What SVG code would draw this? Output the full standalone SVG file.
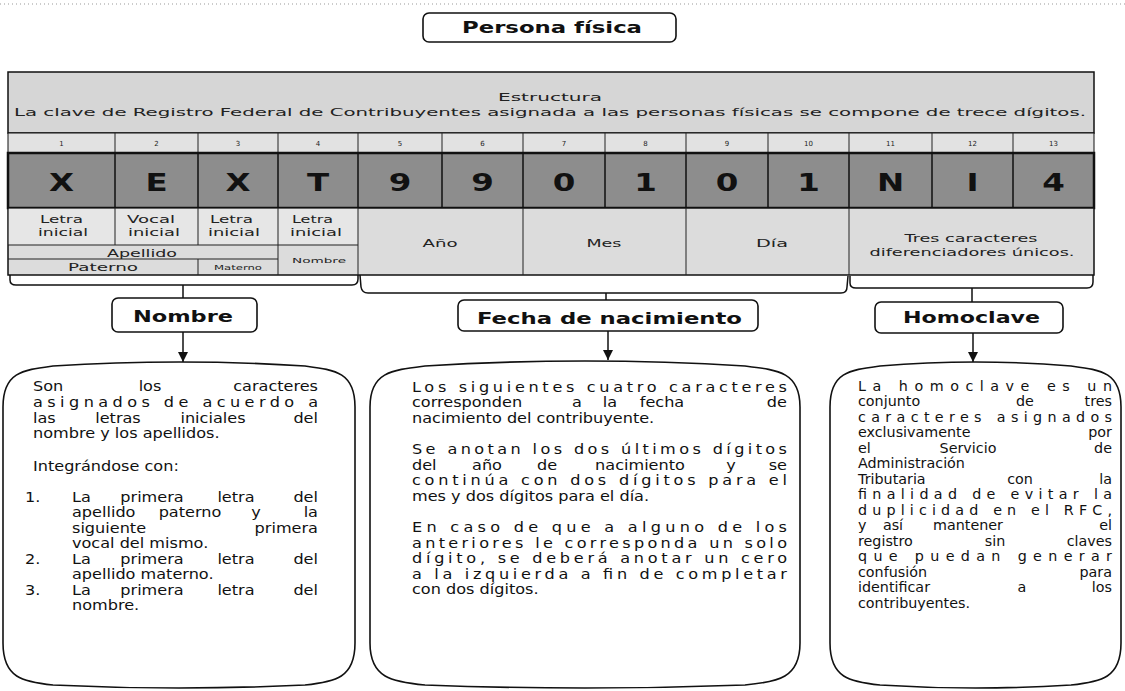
<svg xmlns="http://www.w3.org/2000/svg" width="1125" height="691" viewBox="0 0 1125 691">
<defs>
<marker id="ah" viewBox="0 0 10 10" refX="10" refY="5" markerWidth="10" markerHeight="10" markerUnits="userSpaceOnUse" orient="auto"><path d="M0,0 L10,5 L0,10 Z" fill="#111"/></marker>
</defs>
<style>
.ln{fill:none;stroke:#111;stroke-width:1.5}
.thin{fill:none;stroke:#222;stroke-width:1}
.box{fill:#fff;stroke:#111;stroke-width:1.6}
.lbl{font-family:"DejaVu Sans",sans-serif;font-weight:bold;font-size:16px;fill:#111}
.b{font-family:"DejaVu Sans",sans-serif;font-size:14px;fill:#111}
.r{font-family:"DejaVu Sans",sans-serif;font-size:13.5px;fill:#111}
.c{font-family:"DejaVu Sans",sans-serif;font-size:11px;fill:#222}
.s{font-family:"DejaVu Sans",sans-serif;font-size:7px;fill:#222}
.n{font-family:"DejaVu Sans",sans-serif;font-size:7px;fill:#222;text-anchor:middle}
.k{font-family:"DejaVu Sans",sans-serif;font-weight:bold;font-size:25px;fill:#111;text-anchor:middle}
.m{text-anchor:middle}
.e{text-anchor:end}
</style>
<line x1="0" y1="4" x2="1125" y2="4" stroke="#999" stroke-width="1" stroke-dasharray="1 3"/>

<g id="persona-fisica">
<rect class="box" x="423" y="13" width="253" height="29" rx="6"/>
<text class="lbl" x="462" y="33" textLength="180" lengthAdjust="spacingAndGlyphs">Persona física</text>
</g>

<g id="tabla">
<rect x="8" y="72" width="1086" height="61" fill="#d6d6d6" stroke="#111" stroke-width="1.5"/>
<text class="c" x="498" y="101" textLength="104" lengthAdjust="spacingAndGlyphs">Estructura</text>
<text class="c" x="14" y="116" textLength="1072" lengthAdjust="spacingAndGlyphs">La clave de Registro Federal de Contribuyentes asignada a las personas físicas se compone de trece dígitos.</text>
<rect x="8" y="133" width="1086" height="20" fill="#e2e2e2" stroke="#111" stroke-width="1"/>
<path class="thin" d="M115,133V153M198,133V153M278,133V153M358,133V153M442,133V153M523,133V153M605,133V153M686,133V153M768,133V153M849,133V153M932,133V153M1013,133V153"/>
<text class="n" x="61.5" y="146">1</text><text class="n" x="156.5" y="146">2</text><text class="n" x="238" y="146">3</text><text class="n" x="318" y="146">4</text><text class="n" x="400" y="146">5</text><text class="n" x="482.5" y="146">6</text><text class="n" x="564" y="146">7</text><text class="n" x="645.5" y="146">8</text><text class="n" x="727" y="146">9</text><text class="n" x="808.5" y="146">10</text><text class="n" x="890.5" y="146">11</text><text class="n" x="972.5" y="146">12</text><text class="n" x="1053.5" y="146">13</text>
<rect x="8" y="153" width="1086" height="55" fill="#8d8d8d" stroke="#111" stroke-width="2.5"/>
<path class="ln" d="M115,153V208M198,153V208M278,153V208M358,153V208M442,153V208M523,153V208M605,153V208M686,153V208M768,153V208M849,153V208M932,153V208M1013,153V208"/>
<text class="k" transform="translate(61.5,191) scale(1.3,1)">X</text>
<text class="k" transform="translate(156.5,191) scale(1.3,1)">E</text>
<text class="k" transform="translate(238,191) scale(1.3,1)">X</text>
<text class="k" transform="translate(318,191) scale(1.3,1)">T</text>
<text class="k" transform="translate(400,191) scale(1.3,1)">9</text>
<text class="k" transform="translate(482.5,191) scale(1.3,1)">9</text>
<text class="k" transform="translate(564,191) scale(1.3,1)">0</text>
<text class="k" transform="translate(645.5,191) scale(1.3,1)">1</text>
<text class="k" transform="translate(727,191) scale(1.3,1)">0</text>
<text class="k" transform="translate(808.5,191) scale(1.3,1)">1</text>
<text class="k" transform="translate(890.5,191) scale(1.3,1)">N</text>
<text class="k" transform="translate(972.5,191) scale(1.3,1)">I</text>
<text class="k" transform="translate(1053.5,191) scale(1.3,1)">4</text>
<rect x="8" y="208" width="1086" height="67" fill="#dcdcdc" stroke="#111" stroke-width="1.5"/>
<rect x="8.8" y="208.8" width="349" height="36" fill="#e6e6e6"/>
<path class="thin" d="M115,208V245M198,208V245M198,259V275M278,208V275M358,208V275M523,208V275M686,208V275M849,208V275M8,245H358M8,259H278"/>
<text class="c m" x="61.5" y="223" textLength="43" lengthAdjust="spacingAndGlyphs">Letra</text>
<text class="c m" x="63" y="236" textLength="50" lengthAdjust="spacingAndGlyphs">inicial</text>
<text class="c m" x="151" y="223" textLength="48" lengthAdjust="spacingAndGlyphs">Vocal</text>
<text class="c m" x="154" y="236" textLength="52" lengthAdjust="spacingAndGlyphs">inicial</text>
<text class="c m" x="231.5" y="223" textLength="43" lengthAdjust="spacingAndGlyphs">Letra</text>
<text class="c m" x="234" y="236" textLength="52" lengthAdjust="spacingAndGlyphs">inicial</text>
<text class="c m" x="312.5" y="223" textLength="41" lengthAdjust="spacingAndGlyphs">Letra</text>
<text class="c m" x="316" y="236" textLength="52" lengthAdjust="spacingAndGlyphs">inicial</text>
<text class="c m" x="142" y="257" textLength="70" lengthAdjust="spacingAndGlyphs">Apellido</text>
<text class="c m" x="103" y="271" textLength="70" lengthAdjust="spacingAndGlyphs">Paterno</text>
<text class="s m" x="238" y="270" textLength="48" lengthAdjust="spacingAndGlyphs">Materno</text>
<text class="s m" x="319" y="263" textLength="54" lengthAdjust="spacingAndGlyphs">Nombre</text>
<text class="c m" x="440" y="247" textLength="35" lengthAdjust="spacingAndGlyphs">Año</text>
<text class="c m" x="604" y="247" textLength="35" lengthAdjust="spacingAndGlyphs">Mes</text>
<text class="c m" x="772" y="247" textLength="32" lengthAdjust="spacingAndGlyphs">Día</text>
<text class="c m" x="971" y="242" textLength="133" lengthAdjust="spacingAndGlyphs">Tres caracteres</text>
<text class="c m" x="972" y="256" textLength="205" lengthAdjust="spacingAndGlyphs">diferenciadores únicos.</text>
</g>

<g id="conectores">
<path class="ln" d="M10,275 L10,280 Q10,285 16,285 L352,285 Q358,285 358,279 L358,275 M183,285 L183,298"/>
<path class="ln" d="M360,275 L361,287 Q362,293 368,293 L841,293 Q847,293 847,287 L848,276 M606,293 L606,300"/>
<path class="ln" d="M850,276 L850,283 Q850,288 856,288 L1087,288 Q1093,288 1093,282 L1093,275 M972,288 L972,302"/>
<path class="ln" d="M183,332 L183,362" marker-end="url(#ah)"/>
<path class="ln" d="M608,331 L608,360" marker-end="url(#ah)"/>
<path class="ln" d="M973,333 L973,362" marker-end="url(#ah)"/>
</g>

<g id="nombre">
<rect class="box" x="112" y="298" width="145" height="34" rx="6"/>
<text class="lbl" x="133" y="322" textLength="100" lengthAdjust="spacingAndGlyphs">Nombre</text>
</g>
<g id="fecha-de-nacimiento">
<rect class="box" x="458" y="300" width="300" height="31" rx="6"/>
<text class="lbl" x="477" y="324" textLength="265" lengthAdjust="spacingAndGlyphs">Fecha de nacimiento</text>
</g>
<g id="homoclave">
<rect class="box" x="875" y="302" width="188" height="31" rx="6"/>
<text class="lbl" x="903" y="323" textLength="137" lengthAdjust="spacingAndGlyphs">Homoclave</text>
</g>

<g id="desc-nombre">
<path class="box" d="M3,407 C3,372 23,370 53,366 Q179,358 305,366 C335,370 355,372 355,407 L355,643 C355,678 335,682 305,685 Q179,691 53,685 C23,682 3,678 3,643 Z"/>
<g class="b" transform="scale(1.15,1)">
<text x="28.7" y="391">Son</text><text class="m" x="130.43" y="391">los</text><text class="e" x="276.52" y="391">caracteres</text>
<text x="28.7" y="407" textLength="247.83" lengthAdjust="spacing">asignados de acuerdo a</text>
<text x="28.7" y="423">las</text><text class="m" x="102.61" y="423">letras</text><text class="m" x="185.22" y="423">iniciales</text><text class="e" x="276.52" y="423">del</text>
<text x="28.7" y="438">nombre y los apellidos.</text>
<text x="28.7" y="471">Integrándose con:</text>
<text x="21.74" y="502">1.</text><text x="62.61" y="502">La</text><text class="m" x="132.17" y="502">primera</text><text class="m" x="205.22" y="502">letra</text><text class="e" x="276.52" y="502">del</text>
<text x="62.61" y="517">apellido</text><text class="m" x="165.22" y="517">paterno</text><text class="m" x="222.61" y="517">y</text><text class="e" x="276.52" y="517">la</text>
<text x="62.61" y="533">siguiente</text><text class="e" x="276.52" y="533">primera</text>
<text x="62.61" y="548">vocal del mismo.</text>
<text x="21.74" y="564">2.</text><text x="62.61" y="564">La</text><text class="m" x="132.17" y="564">primera</text><text class="m" x="205.22" y="564">letra</text><text class="e" x="276.52" y="564">del</text>
<text x="62.61" y="579">apellido materno.</text>
<text x="21.74" y="595">3.</text><text x="62.61" y="595">La</text><text class="m" x="132.17" y="595">primera</text><text class="m" x="205.22" y="595">letra</text><text class="e" x="276.52" y="595">del</text>
<text x="62.61" y="610">nombre.</text>
</g>
</g>

<g id="desc-fecha">
<path class="box" d="M370,407 C370,372 392,370 425,366 Q585,356 745,366 C778,370 800,372 800,407 L800,643 C800,678 778,682 745,685 Q585,691 425,685 C392,682 370,678 370,643 Z"/>
<g class="b" transform="scale(1.15,1)">
<text x="358.26" y="392" textLength="326.09" lengthAdjust="spacing">Los siguientes cuatro caracteres</text>
<text x="358.26" y="407">corresponden</text><text class="m" x="501.74" y="407">a</text><text class="m" x="530.43" y="407">la</text><text class="m" x="575.65" y="407">fecha</text><text class="e" x="684.35" y="407">de</text>
<text x="358.26" y="423">nacimiento del contribuyente.</text>
<text x="358.26" y="454" textLength="326.09" lengthAdjust="spacing">Se anotan los dos últimos dígitos</text>
<text x="358.26" y="470">del</text><text class="m" x="423.48" y="470">año</text><text class="m" x="475.65" y="470">de</text><text class="m" x="556.52" y="470">nacimiento</text><text class="m" x="635.65" y="470">y</text><text class="e" x="684.35" y="470">se</text>
<text x="358.26" y="485" textLength="326.09" lengthAdjust="spacing">continúa con dos dígitos para el</text>
<text x="358.26" y="501">mes y dos dígitos para el día.</text>
<text x="358.26" y="532" textLength="326.09" lengthAdjust="spacing">En caso de que a alguno de los</text>
<text x="358.26" y="548" textLength="326.09" lengthAdjust="spacing">anteriores le corresponda un solo</text>
<text x="358.26" y="563" textLength="326.09" lengthAdjust="spacing">dígito, se deberá anotar un cero</text>
<text x="358.26" y="579" textLength="326.09" lengthAdjust="spacing">a la izquierda a fin de completar</text>
<text x="358.26" y="594">con dos dígitos.</text>
</g>
</g>

<g id="desc-homoclave">
<path class="box" d="M830,407 C830,372 850,370 880,366 Q975,358 1071,366 C1101,370 1121,372 1121,407 L1121,643 C1121,678 1101,682 1071,685 Q975,691 880,685 C850,682 830,678 830,643 Z"/>
<g class="r" transform="scale(1.06,1)">
<text x="809.43" y="391" textLength="239.62" lengthAdjust="spacing">La homoclave es un</text>
<text x="809.43" y="406.5">conjunto</text><text class="m" x="966.98" y="406.5">de</text><text class="e" x="1049.06" y="406.5">tres</text>
<text x="809.43" y="422" textLength="239.62" lengthAdjust="spacing">caracteres asignados</text>
<text x="809.43" y="437.5">exclusivamente</text><text class="e" x="1049.06" y="437.5">por</text>
<text x="809.43" y="453">el</text><text class="m" x="913.21" y="453">Servicio</text><text class="e" x="1049.06" y="453">de</text>
<text x="809.43" y="468.5">Administración</text>
<text x="809.43" y="484">Tributaria</text><text class="m" x="962.26" y="484">con</text><text class="e" x="1049.06" y="484">la</text>
<text x="809.43" y="499.5" textLength="239.62" lengthAdjust="spacing">finalidad de evitar la</text>
<text x="809.43" y="515" textLength="239.62" lengthAdjust="spacing">duplicidad en el RFC,</text>
<text x="809.43" y="530.5">y</text><text class="m" x="842.45" y="530.5">así</text><text class="m" x="913.21" y="530.5">mantener</text><text class="e" x="1049.06" y="530.5">el</text>
<text x="809.43" y="546">registro</text><text class="m" x="938.68" y="546">sin</text><text class="e" x="1049.06" y="546">claves</text>
<text x="809.43" y="561.5" textLength="239.62" lengthAdjust="spacing">que puedan generar</text>
<text x="809.43" y="577">confusión</text><text class="e" x="1049.06" y="577">para</text>
<text x="809.43" y="592.5">identificar</text><text class="m" x="964.15" y="592.5">a</text><text class="e" x="1049.06" y="592.5">los</text>
<text x="809.43" y="608">contribuyentes.</text>
</g>
</g>
</svg>
